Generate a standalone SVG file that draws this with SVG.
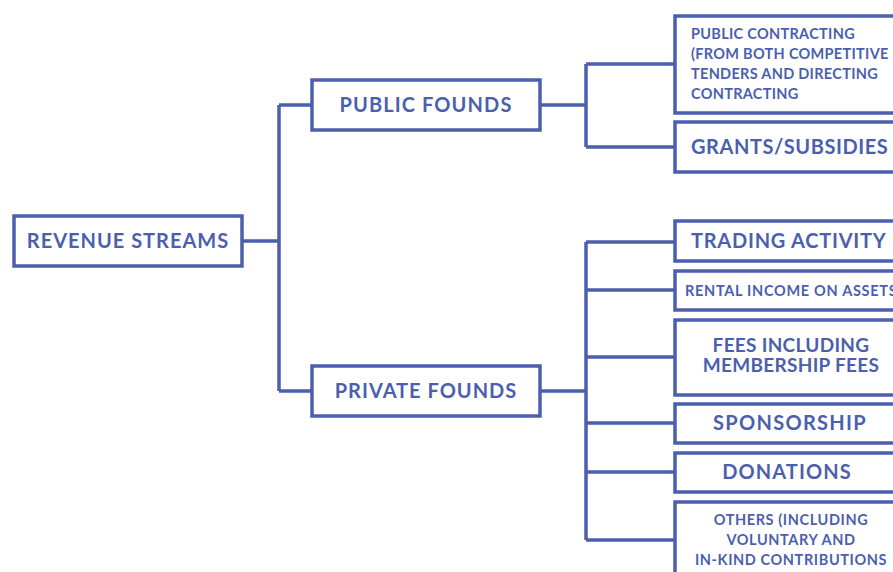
<svg xmlns="http://www.w3.org/2000/svg" width="893" height="572" viewBox="0 0 893 572">
<style>
.box{fill:#fff;stroke:#4b5fae;stroke-width:3.5}
.ln{fill:none;stroke:#4b5fae;stroke-width:3.5}
text{font-family:Lato,"Liberation Sans",sans-serif;font-weight:700;fill:#4b5fae;text-anchor:middle}
.l{font-size:20px;letter-spacing:0.9px}
.s{font-size:14.5px;letter-spacing:0.3px}
.st{text-anchor:start}
</style>
<rect width="893" height="572" fill="#fff"/>
<g id="connectors">
<path class="ln" d="M242 241H279M279 105V391M279 105H312M279 391H312"/>
<path class="ln" d="M540 105H586M586 64V147M586 64H674M586 147H674"/>
<path class="ln" d="M540 391H586M586 242V540M586 242H674M586 290H674M586 357H674M586 423H674M586 472H674M586 540H674"/>
</g>
<g id="revenue"><rect class="box" x="14" y="216" width="228" height="50"/><text class="l" x="128" y="248" style="letter-spacing:1px">REVENUE STREAMS</text></g>
<g id="public"><rect class="box" x="312" y="80" width="228" height="50"/><text class="l" x="426" y="112" style="letter-spacing:1.1px">PUBLIC FOUNDS</text></g>
<g id="private"><rect class="box" x="312" y="366" width="228" height="50"/><text class="l" x="426" y="398" style="letter-spacing:1px">PRIVATE FOUNDS</text></g>
<g id="contracting"><rect class="box" x="675" y="16" width="232" height="97"/>
<text class="s st" x="691" y="39">PUBLIC CONTRACTING</text>
<text class="s st" x="691" y="59">(FROM BOTH COMPETITIVE</text>
<text class="s st" x="691" y="79">TENDERS AND DIRECTING</text>
<text class="s st" x="691" y="99">CONTRACTING</text></g>
<g id="grants"><rect class="box" x="675" y="122" width="232" height="50"/><text class="l st" x="691" y="154" style="letter-spacing:0.55px">GRANTS/SUBSIDIES</text></g>
<g id="trading"><rect class="box" x="675" y="221" width="232" height="40"/><text class="l st" x="691" y="248" style="letter-spacing:0.75px">TRADING ACTIVITY</text></g>
<g id="rental"><rect class="box" x="675" y="271" width="232" height="39"/><text class="s st" x="685" y="296" style="letter-spacing:0.7px">RENTAL INCOME ON ASSETS</text></g>
<g id="fees"><rect class="box" x="675" y="320" width="232" height="75"/><text class="l" x="791" y="352" style="font-size:19px;letter-spacing:0.3px">FEES INCLUDING</text><text class="l" x="791" y="372" style="font-size:19px;letter-spacing:0.3px">MEMBERSHIP FEES</text></g>
<g id="sponsorship"><rect class="box" x="675" y="404" width="232" height="39"/><text class="l" x="790" y="430" style="letter-spacing:1.3px">SPONSORSHIP</text></g>
<g id="donations"><rect class="box" x="675" y="453" width="232" height="39"/><text class="l" x="787" y="479" style="letter-spacing:1.1px">DONATIONS</text></g>
<g id="others"><rect class="box" x="675" y="502" width="232" height="80"/>
<text class="s" x="791" y="525" style="letter-spacing:0.6px">OTHERS (INCLUDING</text>
<text class="s" x="791" y="545" style="letter-spacing:0.6px">VOLUNTARY AND</text>
<text class="s" x="791" y="565" style="letter-spacing:0.6px">IN-KIND CONTRIBUTIONS</text></g>
</svg>
